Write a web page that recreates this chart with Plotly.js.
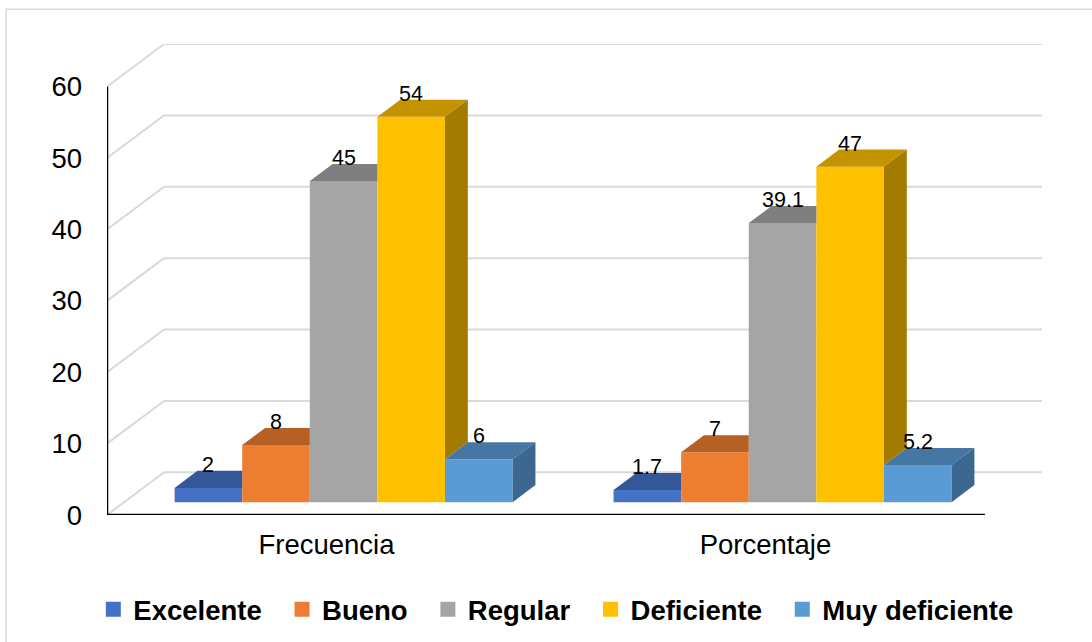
<!DOCTYPE html>
<html>
<head>
<meta charset="utf-8">
<script src="https://cdn.plot.ly/plotly-3.0.1.min.js"></script>
<style>
  html, body { margin: 0; padding: 0; background: #ffffff; }
  #chart { width: 1092px; height: 642px; }
</style>
</head>
<body>
<div id="chart"></div>
<script>
// Categories, series and tick values
const categories = ['Frecuencia', 'Porcentaje'];
const seriesNames = ['Excelente', 'Bueno', 'Regular', 'Deficiente', 'Muy deficiente'];
const excelente = [2, 1.7];
const bueno = [8, 7];
const regular = [45, 39.1];
const deficiente = [54, 47];
const muyDeficiente = [6, 5.2];
const yTickValues = [0, 10, 20, 30, 40, 50, 60];

const series = [excelente, bueno, regular, deficiente, muyDeficiente];

// Face colours: front, top (darker), right side (darkest)
const frontColors = ['#4472C4', '#ED7D31', '#A5A5A5', '#FFC000', '#5B9BD5'];
const topColors   = ['#345897', '#B66026', '#7F7F7F', '#C49400', '#4677A4'];
const sideColors  = ['#2C4B80', '#984F1F', '#6A6A6A', '#A37B00', '#3B6790'];

// Pseudo-3D geometry, in axis units
const DX = 0.13;        // depth of the floor along x (category units)
const DY = 5.98;        // depth of the floor along y (value units)
const F0 = 0.3, F1 = 0.7; // front and back depth of the bars
const GROUP_WIDTH = 0.77;
const nS = series.length;
const BW = GROUP_WIDTH / nS;
const base = F0 * DY;
const xShift = F0 * DX;
const ddx = (F1 - F0) * DX;
const ddy = (F1 - F0) * DY;
const YMAX = 60;

const FONT = 'Liberation Sans, Arial, sans-serif';

function barCenter(i, c) {
  return c + xShift + (i - (nS - 1) / 2) * BW;
}

const traces = [];

// Front faces as grouped bars
series.forEach((vals, i) => {
  traces.push({
    type: 'bar',
    name: seriesNames[i],
    legendgroup: seriesNames[i],
    showlegend: false,
    x: categories.map((_, c) => c + xShift),
    y: vals,
    base: base,
    marker: { color: frontColors[i], line: { width: 0 } },
    hoverinfo: 'skip'
  });
});

// Top and side faces, trimmed where the next bar hides them
series.forEach((vals, i) => {
  const tx = [], ty = [], sx = [], sy = [];
  vals.forEach((v, c) => {
    const xc = barCenter(i, c);
    const xl = xc - BW / 2, xr = xc + BW / 2, yt = base + v;
    const last = i === nS - 1;
    const vn = last ? 0 : series[i + 1][c];
    let top;
    if (last || vn <= v) {
      top = [[xl, yt], [xr, yt], [xr + ddx, yt + ddy], [xl + ddx, yt + ddy]];
    } else {
      const t = (v + ddy - vn) / ddy;
      if (t <= 0) top = [[xl, yt], [xr, yt], [xr, yt + ddy], [xl + ddx, yt + ddy]];
      else top = [[xl, yt], [xr, yt], [xr, base + vn], [xr + ddx * t, yt + ddy], [xl + ddx, yt + ddy]];
    }
    top.forEach(p => { tx.push(p[0]); ty.push(p[1]); });
    tx.push(null); ty.push(null);

    const low = last ? 0 : Math.max(vn, 0);
    if (low < v) {
      [[xr, base + low], [xr + ddx, base + low + ddy], [xr + ddx, yt + ddy], [xr, yt]]
        .forEach(p => { sx.push(p[0]); sy.push(p[1]); });
      sx.push(null); sy.push(null);
    }
  });
  traces.push({
    type: 'scatter', mode: 'lines', x: tx, y: ty, fill: 'toself',
    fillcolor: topColors[i], line: { width: 0, color: topColors[i] },
    legendgroup: seriesNames[i], showlegend: false, hoverinfo: 'skip'
  });
  if (sx.length) {
    traces.push({
      type: 'scatter', mode: 'lines', x: sx, y: sy, fill: 'toself',
      fillcolor: sideColors[i], line: { width: 0, color: sideColors[i] },
      legendgroup: seriesNames[i], showlegend: false, hoverinfo: 'skip'
    });
  }
});

// Legend entries with square swatches (non-breaking spaces widen the gap between entries)
series.forEach((vals, i) => {
  traces.push({
    type: 'scatter', mode: 'markers',
    name: seriesNames[i] + (i < nS - 1 ? '\u00a0\u00a0' : ''),
    legendgroup: seriesNames[i], x: [null], y: [null],
    marker: { symbol: 'square', size: 15, color: frontColors[i] },
    hoverinfo: 'skip'
  });
});

// Back wall gridlines, left wall diagonals, front axis lines
const shapes = [];
const GRID = '#D9D9D9';
yTickValues.forEach(v => {
  shapes.push({ type: 'line', layer: 'below', xref: 'x', yref: 'y',
    x0: -0.5 + DX, x1: 1.5 + DX, y0: v + DY, y1: v + DY,
    line: { color: GRID, width: 2 } });
  shapes.push({ type: 'line', layer: 'below', xref: 'x', yref: 'y',
    x0: -0.5, x1: -0.5 + DX, y0: v, y1: v + DY,
    line: { color: GRID, width: 2 } });
});
shapes.push({ type: 'line', layer: 'above', xref: 'x', yref: 'y',
  x0: -0.5, x1: -0.5, y0: 0, y1: YMAX, line: { color: '#000000', width: 2.5 } });
shapes.push({ type: 'line', layer: 'above', xref: 'x', yref: 'y',
  x0: -0.5, x1: 1.5, y0: 0, y1: 0, line: { color: '#000000', width: 2.5 } });
// Chart frame
shapes.push({ type: 'rect', layer: 'below', xref: 'paper', yref: 'paper',
  x0: -0.108, x1: 1.07, y0: -0.3, y1: 1.074,
  line: { color: '#D9D9D9', width: 1.5 } });

// Value labels above each bar
const annotations = [];
series.forEach((vals, i) => {
  vals.forEach((v, c) => {
    annotations.push({
      xref: 'x', yref: 'y', x: barCenter(i, c), y: base + v,
      yshift: 23, text: String(v), showarrow: false,
      xanchor: 'center', yanchor: 'middle',
      font: { family: FONT, size: 21.5, color: '#000000' }
    });
  });
});

const layout = {
  width: 1092, height: 642, autosize: false,
  margin: { l: 107, r: 50, t: 44, b: 127, pad: 0 },
  paper_bgcolor: '#ffffff', plot_bgcolor: 'rgba(0,0,0,0)',
  barmode: 'group', bargap: 0.23, bargroupgap: 0,
  xaxis: {
    range: [-0.5, 1.5 + DX], tickvals: categories.map((_, c) => c), ticktext: categories,
    showgrid: false, zeroline: false, showline: false, ticks: '',
    ticklabelstandoff: 10, automargin: false,
    tickfont: { family: FONT, size: 27.5, color: '#000000' }, fixedrange: true
  },
  yaxis: {
    range: [0, YMAX + DY], tickvals: yTickValues,
    showgrid: false, zeroline: false, showline: false, ticks: '',
    ticklabelstandoff: 24, automargin: false,
    tickfont: { family: FONT, size: 27.5, color: '#000000' }, fixedrange: true
  },
  legend: {
    orientation: 'h', xref: 'container', yref: 'container',
    x: 0.509, xanchor: 'center', y: 0.051, yanchor: 'middle',
    font: { family: FONT, size: 27.5, color: '#000000', weight: 700 },
    bgcolor: 'rgba(0,0,0,0)'
  },
  shapes: shapes,
  annotations: annotations,
  showlegend: true
};

Plotly.newPlot('chart', traces, layout, { displayModeBar: false, staticPlot: true });
</script>
</body>
</html>
